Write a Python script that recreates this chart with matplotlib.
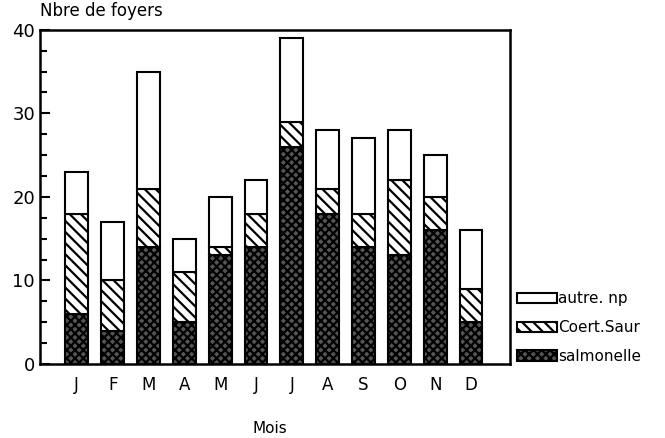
import matplotlib
matplotlib.use("Agg")
import matplotlib.pyplot as plt
from matplotlib.patches import Patch
import numpy as np

# Data
mois = ["J", "F", "M", "A", "M", "J", "J", "A", "S", "O", "N", "D"]
salmonelle = [6, 4, 14, 5, 13, 14, 26, 18, 14, 13, 16, 5]
coer_saur = [12, 6, 7, 6, 1, 4, 3, 3, 4, 9, 4, 4]
autre_np = [5, 7, 14, 4, 6, 4, 10, 7, 9, 6, 5, 7]

plt.rcParams["font.family"] = "DejaVu Sans"
plt.rcParams["hatch.linewidth"] = 1.6

fig = plt.figure(figsize=(6.65, 4.38), dpi=100)
ax = fig.add_axes([0.060, 0.169, 0.707, 0.763])

x = np.arange(len(mois))
w = 0.64
b1 = np.array(salmonelle)
b2 = b1 + np.array(coer_saur)

ax.bar(x, salmonelle, w, color="#555555", edgecolor="black", hatch="xxxx", linewidth=1.5)
ax.bar(x, coer_saur, w, bottom=b1, color="white", edgecolor="black", hatch="\\\\\\", linewidth=1.5)
ax.bar(x, autre_np, w, bottom=b2, color="white", edgecolor="black", linewidth=1.5)

ax.set_xlim(-1.03, 12.09)
ax.set_ylim(0, 40)
ax.set_yticks([0, 10, 20, 30, 40])
ax.set_yticks(np.arange(0, 40, 2.5), minor=True)
ax.tick_params(axis="y", direction="in", length=7, width=1.5, labelsize=13)
ax.tick_params(axis="y", which="minor", direction="in", length=5, width=1.5)
ax.set_xticks(x)
ax.set_xticklabels(mois, fontsize=12)
ax.tick_params(axis="x", length=0, pad=9)
for s in ax.spines.values():
    s.set_linewidth(1.8)

fig.text(0.060, 0.955, "Nbre de foyers", fontsize=12, ha="left", va="bottom")
fig.text(0.406, 0.005, "Mois", fontsize=11, ha="center", va="bottom")

handles = [
    Patch(facecolor="white", edgecolor="black", linewidth=1.5, label="autre. np"),
    Patch(facecolor="white", edgecolor="black", hatch="\\\\\\", linewidth=1.5, label="Coert.Saur"),
    Patch(facecolor="#555555", edgecolor="black", hatch="xxxx", linewidth=1.5, label="salmonelle"),
]
fig.legend(handles=handles, loc="lower left", bbox_to_anchor=(0.768, 0.155),
           frameon=False, fontsize=11, handlelength=2.6, handletextpad=0.1,
           labelspacing=0.9, borderaxespad=0)

fig.savefig("out.png", dpi=100)
